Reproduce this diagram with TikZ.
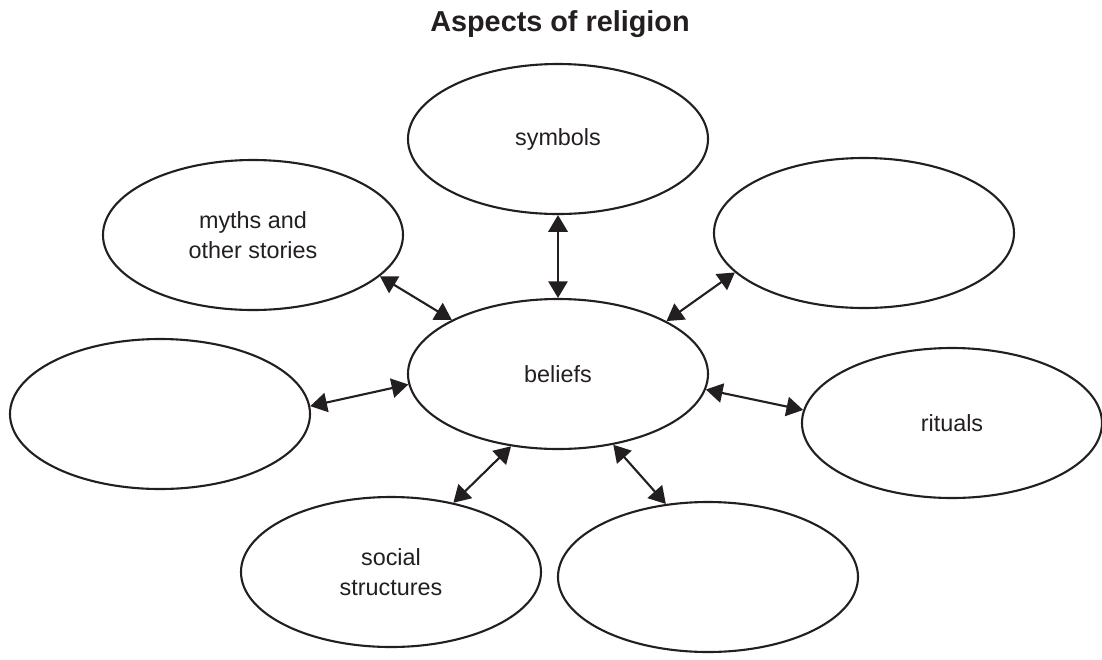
\documentclass[tikz,border=0pt]{standalone}
\usepackage{fontspec}
\setmainfont{Liberation Sans}
\usepackage{tikz}
\usetikzlibrary{arrows.meta,shapes.geometric}
\definecolor{InkCol}{HTML}{231F20}

\begin{document}
\begin{tikzpicture}[
        BubbleCfg/.style={
            ellipse,
            draw=InkCol,
            line width=1.2pt,
            minimum width=6cm,
            minimum height=3cm,
            inner sep=0pt,
            align=center,
            text=InkCol,
            font=\fontsize{13.3}{17}\selectfont
        },
        ArrowCfg/.style={
            {Triangle[length=9.5pt,width=11pt]}-{Triangle[length=9.5pt,width=11pt]},
            draw=InkCol,
            line width=1.2pt
        }
    ]
    \useasboundingbox (0,0) rectangle (22.04,-13.18);

    %title
    \node[font=\fontsize{16.4}{20}\selectfont\bfseries,text=InkCol] (Title) at (11.2,-0.48) {Aspects of religion};

    %centre
    \node[BubbleCfg] (Beliefs) at (11.16,-7.48) {beliefs};

    %outer bubbles
    \node[BubbleCfg] (Symbols) at (11.16,-2.78) {symbols};
    \node[BubbleCfg] (Myths) at (5.06,-4.70) {myths and\\other stories};
    \node[BubbleCfg] (TopRight) at (17.28,-4.66) {};
    \node[BubbleCfg] (Left) at (3.20,-8.28) {};
    \node[BubbleCfg] (Rituals) at (19.04,-8.46) {rituals};
    \node[BubbleCfg] (Social) at (7.82,-11.44) {social\\structures};
    \node[BubbleCfg] (BotRight) at (14.16,-11.54) {};

    %connections
    \draw[ArrowCfg] (Symbols.-90)--(Beliefs.90);
    \draw[ArrowCfg] (Myths.-18)--(Beliefs.153);
    \draw[ArrowCfg] (TopRight.197)--(Beliefs.26);
    \draw[ArrowCfg] (Left.3)--(Beliefs.184);
    \draw[ArrowCfg] (Rituals.175)--(Beliefs.-6);
    \draw[ArrowCfg] (Social.48)--(Beliefs.-123);
    \draw[ArrowCfg] (BotRight.120)--(Beliefs.-52);

\end{tikzpicture}
\end{document}
